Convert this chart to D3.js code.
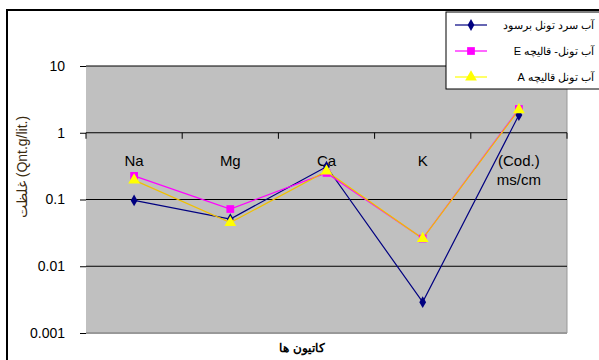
<!DOCTYPE html>
<html>
<head>
<meta charset="utf-8">
<script src="https://cdn.jsdelivr.net/npm/d3@7"></script>
<style>
  body { margin: 0; background: #fff; }
  text { font-family: Arial, "Liberation Sans", sans-serif; }
</style>
</head>
<body>
<div id="chart-area"></div>
<script>
// data
let categories = ["Na", "Mg", "Ca", "K", "(Cod.)\nms/cm"];
let seriesNames = ["آب سرد تونل برسود", "آب تونل- قالیچه  E", "آب تونل قالیچه  A"];
let blueValues = [0.097, 0.051, 0.31, 0.0029, 1.84];
let pinkValues = [0.226, 0.072, 0.25, 0.026, 2.27];
let yellowValues = [0.195, 0.045, 0.266, 0.026, 2.2];
let yTicks = [0.001, 0.01, 0.1, 1, 10];

let seriesColors = ["#000080", "#ff00ff", "#ffff00"];
let seriesMarkers = [d3.symbolDiamond, d3.symbolSquare, d3.symbolTriangle];
let allValues = [blueValues, pinkValues, yellowValues];

let W = 599, H = 360;
let margin = {top: 66, right: 32, bottom: 27, left: 86};
let width = W - margin.left - margin.right,
    height = H - margin.top - margin.bottom;

let svg = d3.select("#chart-area").append("svg")
    .attr("width", W)
    .attr("height", H);

// outer frame
svg.append("rect")
    .attr("x", 7).attr("y", 10)
    .attr("width", 620).attr("height", 380)
    .attr("fill", "#fff").attr("stroke", "#000").attr("stroke-width", 2);

let g = svg.append("g")
    .attr("transform", "translate(" + margin.left + "," + margin.top + ")");

// Scales
let x = d3.scaleBand()
    .domain(categories)
    .range([0, width]);

let y = d3.scaleLog()
    .domain([0.001, 10])
    .range([height, 0]);

// plot background
g.append("rect")
    .attr("width", width).attr("height", height)
    .attr("fill", "#c0c0c0");
g.append("line")
    .attr("x1", width).attr("x2", width).attr("y1", 0).attr("y2", height)
    .attr("stroke", "#999");
g.append("line")
    .attr("x1", 0).attr("x2", width).attr("y1", height).attr("y2", height)
    .attr("stroke", "#999").attr("stroke-width", 2);

// gridlines
g.selectAll(".grid").data(yTicks.filter(d => d > 0.001))
  .enter().append("line")
    .attr("class", "grid")
    .attr("x1", 0).attr("x2", width)
    .attr("y1", d => y(d)).attr("y2", d => y(d))
    .attr("stroke", "#000").attr("stroke-width", 1.2);

// y axis
let yAxis = d3.axisLeft(y)
    .tickValues(yTicks)
    .tickFormat(d => String(d))
    .tickSize(6)
    .tickPadding(15);
let yAxisGroup = g.append("g").call(yAxis);
yAxisGroup.select(".domain").remove();
yAxisGroup.selectAll("text").attr("font-size", 14).attr("fill", "#000")
    .attr("font-family", "Arial, 'Liberation Sans', sans-serif");
yAxisGroup.selectAll("line").attr("stroke", "#000");

// x axis crossing at 1
let xAxis = d3.axisBottom(x).tickSize(0).tickFormat("");
let xAxisGroup = g.append("g")
    .attr("transform", "translate(0," + y(1) + ")")
    .call(xAxis);
xAxisGroup.select(".domain").remove();
let tickPos = d3.range(categories.length + 1).map(i => i * x.bandwidth());
xAxisGroup.selectAll(".btick").data(tickPos)
  .enter().append("line")
    .attr("x1", d => d).attr("x2", d => d)
    .attr("y1", 0).attr("y2", 6)
    .attr("stroke", "#000");

// category labels
categories.forEach(function(c) {
  let lines = c.split("\n");
  let t = g.append("text")
      .attr("x", x(c) + x.bandwidth() / 2)
      .attr("y", y(1) + 33)
      .attr("text-anchor", "middle")
      .attr("font-size", 15)
      .attr("fill", "#000");
  lines.forEach((l, i) => {
    t.append("tspan")
      .attr("x", x(c) + x.bandwidth() / 2)
      .attr("dy", i === 0 ? 0 : 19)
      .text(l);
  });
});

// series lines and markers
let line = d3.line()
    .x((d, i) => x(categories[i]) + x.bandwidth() / 2)
    .y(d => y(d));

allValues.forEach(function(vals, s) {
  g.append("path")
      .datum(vals)
      .attr("fill", "none")
      .attr("stroke", s === 2 ? "#f0c000" : seriesColors[s])
      .attr("stroke-width", 1.2)
      .attr("d", line);
});
allValues.forEach(function(vals, s) {
  g.selectAll(".m" + s).data(vals)
    .enter().append("path")
      .attr("class", "m" + s)
      .attr("transform", (d, i) => "translate(" + (x(categories[i]) + x.bandwidth() / 2) + "," + y(d) + ")")
      .attr("d", d3.symbol().type(seriesMarkers[s]).size(s === 0 ? 40 : 60))
      .attr("fill", seriesColors[s]);
});

// y title
svg.append("text")
    .attr("transform", "translate(27,167) rotate(-90)")
    .attr("text-anchor", "middle")
    .attr("font-size", 14)
    .attr("fill", "#3a2a10")
    .text("غلظت (Qnt.g/lit.)");

// x title
svg.append("text")
    .attr("x", 302).attr("y", 352)
    .attr("text-anchor", "middle")
    .attr("font-size", 12)
    .attr("font-weight", "bold")
    .attr("font-family", "'DejaVu Sans', sans-serif")
    .text("کاتیون ها");

// legend
let legend = svg.append("g").attr("transform", "translate(446,12)");
legend.append("rect")
    .attr("width", 170).attr("height", 77)
    .attr("fill", "#fff").attr("stroke", "#000");
seriesNames.forEach(function(n, s) {
  let ly = 13 + s * 26;
  legend.append("line")
      .attr("x1", 9).attr("x2", 41).attr("y1", ly).attr("y2", ly)
      .attr("stroke", seriesColors[s]).attr("stroke-width", 1.2);
  legend.append("path")
      .attr("transform", "translate(25," + ly + ")")
      .attr("d", d3.symbol().type(seriesMarkers[s]).size(s === 0 ? 40 : 60))
      .attr("fill", seriesColors[s]);
  legend.append("text")
      .attr("x", 148).attr("y", ly + 4)
      .attr("text-anchor", "start")
      .attr("direction", "rtl")
      .attr("font-size", 11)
      .text(n);
});
</script>
</body>
</html>
